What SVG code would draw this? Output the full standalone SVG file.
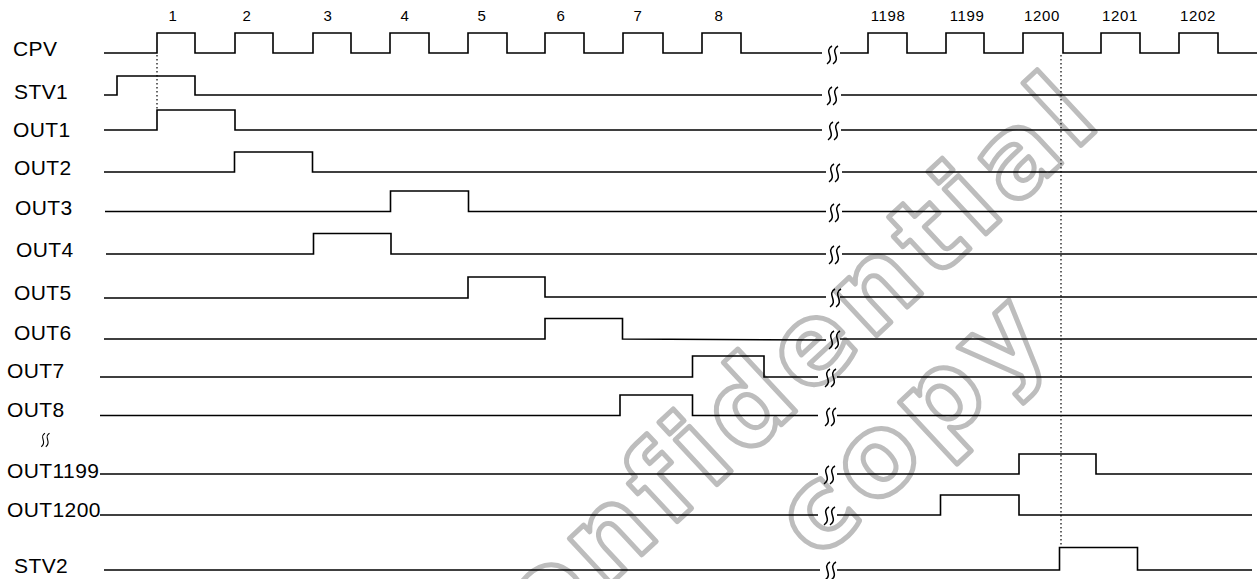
<svg xmlns="http://www.w3.org/2000/svg" xmlns:xlink="http://www.w3.org/1999/xlink" width="1257" height="579" viewBox="0 0 1257 579">
<style>
.w{fill:none;stroke:#000;stroke-width:1.6;stroke-linejoin:miter}
.brk{fill:none;stroke:#000;stroke-width:1.5}
.dot{fill:none;stroke:#000;stroke-width:1.2;stroke-dasharray:1.5 2.5}
.lbl{font-family:"Liberation Sans",Arial,sans-serif;font-size:21px;letter-spacing:0.4px;fill:#000}
.num{font-family:"Liberation Sans",Arial,sans-serif;font-size:15px;letter-spacing:0.6px;fill:#000;text-anchor:middle}
.wm{font-family:"DejaVu Sans",sans-serif;font-weight:bold;font-size:112px;fill:none;stroke:#bdbdbd;stroke-width:5;stroke-linejoin:round}
</style>
<defs>
<g id="brk">
<path class="brk" d="M0,-9 C-9,-4 4,3 -5,9"/>
<path class="brk" d="M6,-9 C-3,-4 10,3 1,9"/>
</g>
</defs>
<rect width="1257" height="579" fill="#fff"/>
<g id="watermark">
<text class="wm" transform="translate(1108,120) rotate(-43)" text-anchor="end" letter-spacing="8">Confidential</text>
<text class="wm" transform="translate(1058,338) rotate(-43)" text-anchor="end" letter-spacing="8">copy</text>
</g>
<g id="numbers">
<text class="num" x="173" y="21">1</text>
<text class="num" x="247" y="21">2</text>
<text class="num" x="328" y="21">3</text>
<text class="num" x="405" y="21">4</text>
<text class="num" x="482" y="21">5</text>
<text class="num" x="561" y="21">6</text>
<text class="num" x="638" y="21">7</text>
<text class="num" x="719" y="21">8</text>
<text class="num" x="888" y="21">1198</text>
<text class="num" x="967" y="21">1199</text>
<text class="num" x="1042" y="21">1200</text>
<text class="num" x="1120" y="21">1201</text>
<text class="num" x="1198" y="21">1202</text>
</g>
<g id="CPV">
<text class="lbl" x="13" y="56">CPV</text>
<path class="w" d="M104,53 H157 V33 H195 V53 H235 V33 H273 V53 H313 V33 H351 V53 H390 V33 H429 V53 H468 V33 H507 V53 H545 V33 H584 V53 H623 V33 H663 V53 H702 V33 H741 V53 H822"/>
<path class="w" d="M840,53 H868 V33 H907 V53 H946 V33 H984 V53 H1023 V33 H1063 V53 H1101 V33 H1140 V53 H1179 V33 H1218 V53 H1257"/>
<use xlink:href="#brk" x="832" y="55"/>
</g>
<g id="STV1">
<text class="lbl" x="14" y="99">STV1</text>
<path class="w" d="M104,95 H117 V76 H195 V95 H822"/>
<path class="w" d="M841,95 H1257"/>
<use xlink:href="#brk" x="832" y="96"/>
</g>
<g id="OUT1">
<text class="lbl" x="13" y="137">OUT1</text>
<path class="w" d="M104,130 H157 V110 H235 V130 H822"/>
<path class="w" d="M841,130 H1257"/>
<use xlink:href="#brk" x="833" y="131"/>
</g>
<g id="OUT2">
<text class="lbl" x="14" y="175">OUT2</text>
<path class="w" d="M104,172 H234.5 V152 H312.5 V172 H826"/>
<path class="w" d="M842,172 H1257"/>
<use xlink:href="#brk" x="834" y="173"/>
</g>
<g id="OUT3">
<text class="lbl" x="15" y="215">OUT3</text>
<path class="w" d="M105,211.5 H390.5 V191 H468.5 V211.5 H826"/>
<path class="w" d="M842,211.5 H1257"/>
<use xlink:href="#brk" x="834" y="213"/>
</g>
<g id="OUT4">
<text class="lbl" x="16" y="257">OUT4</text>
<path class="w" d="M106,254 H313.5 V233.5 H391 V254 H826"/>
<path class="w" d="M842,254 H1257"/>
<use xlink:href="#brk" x="834" y="255"/>
</g>
<g id="OUT5">
<text class="lbl" x="14" y="300">OUT5</text>
<path class="w" d="M104,298 H468 V277 H545 V297 H826"/>
<path class="w" d="M840,297 H1257"/>
<use xlink:href="#brk" x="835" y="298"/>
</g>
<g id="OUT6">
<text class="lbl" x="14" y="340">OUT6</text>
<path class="w" d="M104,339 H545 V318.5 H622.5 V339 L826,340"/>
<path class="w" d="M840,339 H1257"/>
<use xlink:href="#brk" x="834" y="340"/>
</g>
<g id="OUT7">
<text class="lbl" x="7" y="378">OUT7</text>
<path class="w" d="M100,377 H692.5 V356 H764 V377 H818"/>
<path class="w" d="M837,377 H1252"/>
<use xlink:href="#brk" x="830" y="378"/>
</g>
<g id="OUT8">
<text class="lbl" x="7" y="417">OUT8</text>
<path class="w" d="M100,415.5 H620 V395 H692.5 V415.5 H818"/>
<path class="w" d="M837,415.5 H1252"/>
<use xlink:href="#brk" x="830" y="417"/>
</g>
<g id="skip">
<use xlink:href="#brk" transform="translate(45,440) scale(0.75)"/>
</g>
<g id="OUT1199">
<text class="lbl" x="7" y="478">OUT1199</text>
<path class="w" d="M100,474 H818"/>
<path class="w" d="M837,474 H1019 V454 H1096 V474 H1252"/>
<use xlink:href="#brk" x="829" y="475"/>
</g>
<g id="OUT1200">
<text class="lbl" x="7" y="517">OUT1200</text>
<path class="w" d="M100,515 H818"/>
<path class="w" d="M837,515 H940.5 V495 H1019 V515 H1252"/>
<use xlink:href="#brk" x="829" y="516"/>
</g>
<g id="STV2">
<text class="lbl" x="14" y="573">STV2</text>
<path class="w" d="M104,570 H820"/>
<path class="w" d="M837,570 H1059.5 V547.5 H1137.5 V570 H1252"/>
<use xlink:href="#brk" x="830" y="571"/>
</g>
<g id="connectors">
<path class="dot" d="M157,55 V110"/>
<path class="dot" d="M1061,55 V547"/>
</g>
</svg>
